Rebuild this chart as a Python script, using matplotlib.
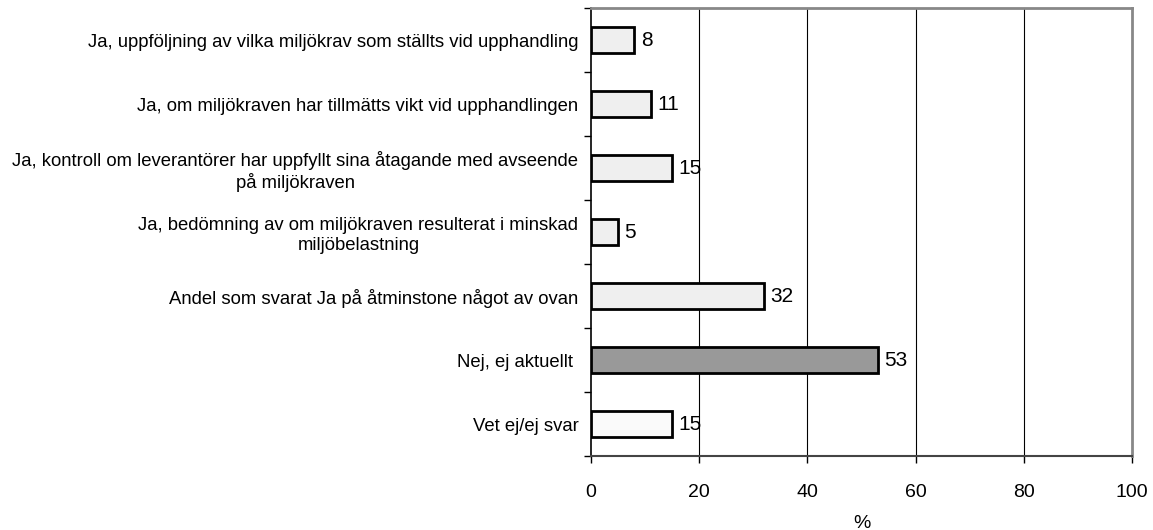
import numpy as np
import matplotlib.pyplot as plt
from matplotlib.ticker import FixedLocator

plt.rcParams['font.family'] = ['Liberation Sans', 'DejaVu Sans']

# data
categories = [
    "Ja, uppföljning av vilka miljökrav som ställts vid upphandling",
    "Ja, om miljökraven har tillmätts vikt vid upphandlingen",
    "Ja, kontroll om leverantörer har uppfyllt sina åtagande med avseende\npå miljökraven",
    "Ja, bedömning av om miljökraven resulterat i minskad\nmiljöbelastning",
    "Andel som svarat Ja på åtminstone något av ovan",
    "Nej, ej aktuellt ",
    "Vet ej/ej svar",
]
values = [8, 11, 15, 5, 32, 53, 15]
colors = ['#efefef', '#efefef', '#efefef', '#efefef', '#efefef', '#999999', '#fafafa']

fig = plt.figure(figsize=(11.53, 5.30), dpi=100)
ax = fig.add_axes([591 / 1153, 1 - 456 / 530, (1132 - 591) / 1153, (456 - 8) / 530])

ypos = np.arange(len(categories))
ax.barh(ypos, values, height=0.4, color=colors, edgecolor='black', linewidth=2, zorder=3)

# value labels right of bars
for y, v in zip(ypos, values):
    ax.text(v + 1.2, y, str(v), va='center', ha='left', fontsize=15, zorder=4)

ax.set_ylim(len(categories) - 0.5, -0.5)
ax.set_xlim(0, 100)
ax.set_xticks([0, 20, 40, 60, 80, 100])
ax.tick_params(axis='x', labelsize=14, length=5, width=1, pad=15)
ax.set_yticks(ypos)
ax.set_yticklabels(categories, fontsize=13.3, ha='right', multialignment='center')
ax.tick_params(axis='y', length=0, pad=9)
ax.yaxis.set_minor_locator(FixedLocator(np.arange(-0.5, len(categories), 1)))
ax.tick_params(axis='y', which='minor', length=5, width=1)

for x in [20, 40, 60, 80]:
    ax.axvline(x, color='black', linewidth=0.8, zorder=1)

ax.spines['left'].set_color('black')
ax.spines['left'].set_linewidth(1.2)
ax.spines['bottom'].set_color('#444444')
ax.spines['bottom'].set_linewidth(1.5)
ax.spines['top'].set_color('#888888')
ax.spines['top'].set_linewidth(2)
ax.spines['right'].set_color('#888888')
ax.spines['right'].set_linewidth(2)

ax.set_xlabel('%', fontsize=14, labelpad=10)

fig.savefig('out.png', dpi=100)
